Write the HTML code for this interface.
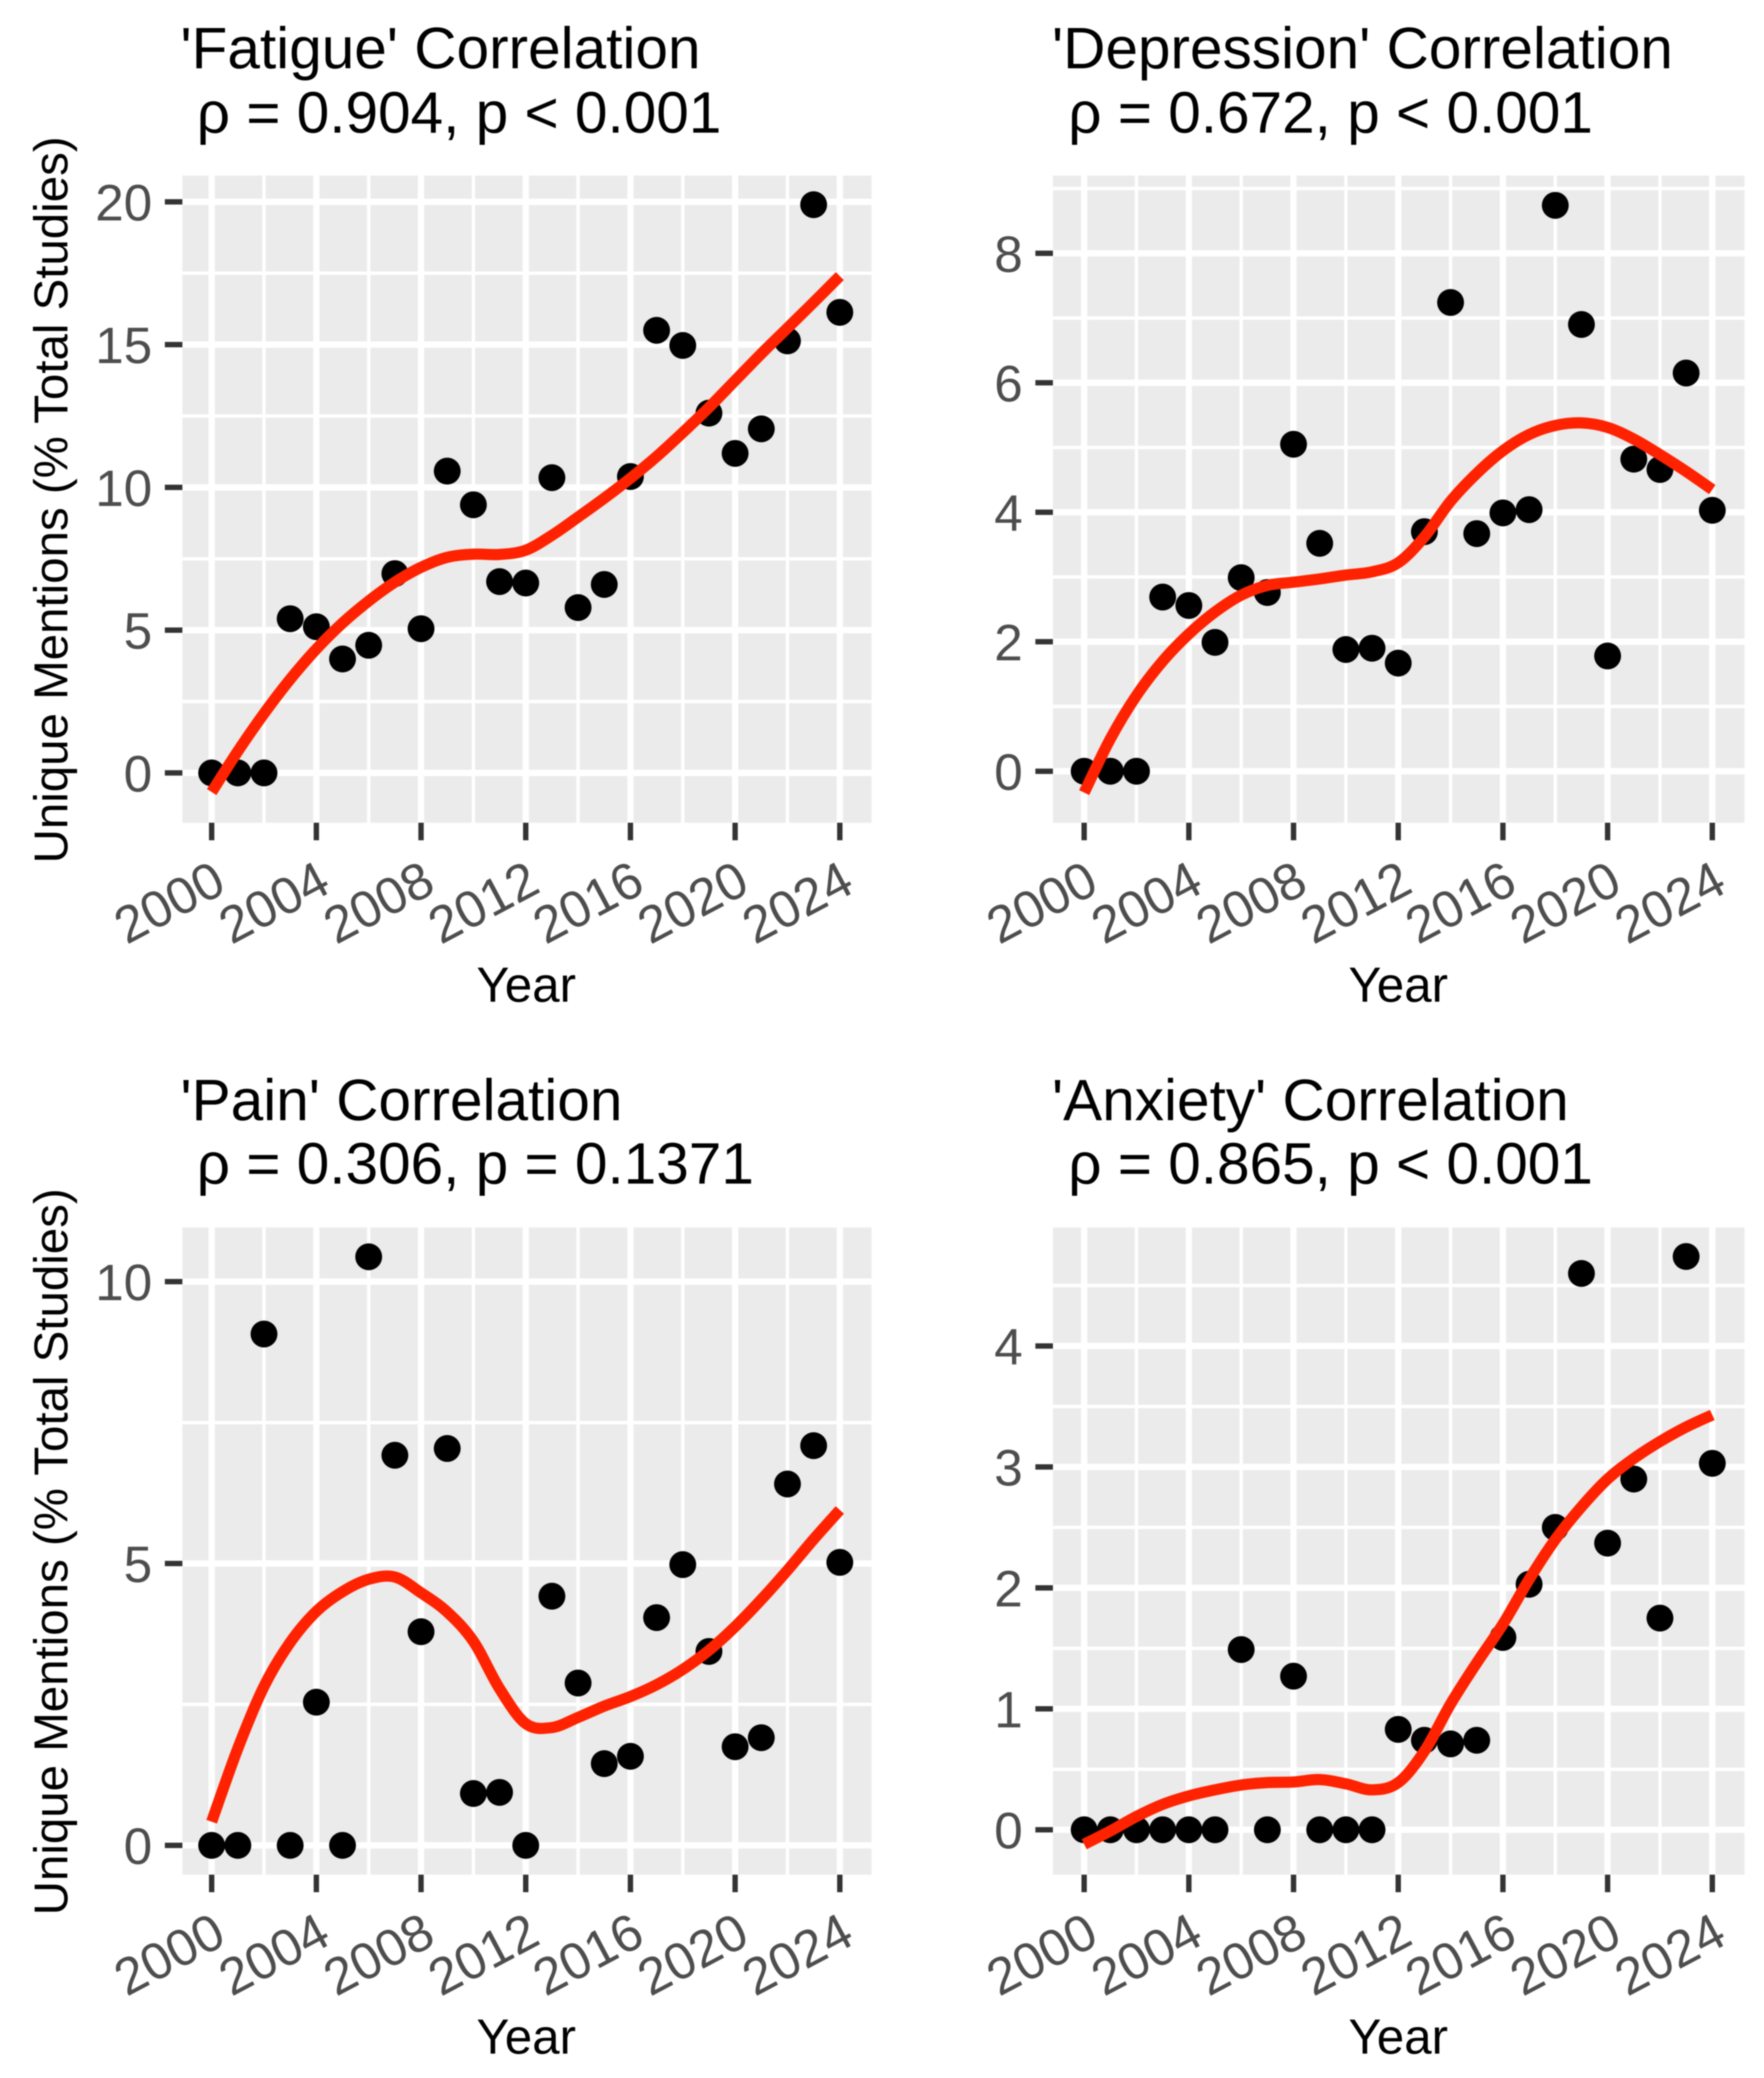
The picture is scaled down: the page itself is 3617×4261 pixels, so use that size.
<!DOCTYPE html>
<html lang="en">
<head>
<meta charset="utf-8">
<title>Correlation panels</title>
<style>
html,body{margin:0;padding:0;background:#fff;width:3617px;height:4261px;overflow:hidden}
svg{display:block;filter:blur(1.2px)}
text{font-family:"Liberation Sans",Arial,sans-serif}
.title{font-size:120px;fill:#000;white-space:pre}
.axis-title{font-size:97.3px;fill:#000}
.x-title{font-size:101px;fill:#000}
</style>
</head>
<body>
<svg id="figure" xmlns="http://www.w3.org/2000/svg" width="3617" height="4261" viewBox="0 0 3617 4261">
  <rect x="0" y="0" width="3617" height="4261" fill="#fff"/>

  <g id="panel-fatigue">
    <text class="title" x="370" y="140">'Fatigue' Correlation</text>
    <text class="title" x="370" y="272"> ρ = 0.904, p &lt; 0.001</text>
    <text class="axis-title" transform="translate(138,1025) rotate(-90)" text-anchor="middle">Unique Mentions (% Total Studies)</text>
    <text class="x-title" x="1079" y="2054" text-anchor="middle">Year</text>
  </g>

  <g id="panel-depression">
    <text class="title" x="2157" y="140">'Depression' Correlation</text>
    <text class="title" x="2157" y="272"> ρ = 0.672, p &lt; 0.001</text>
    <text class="x-title" x="2867" y="2054" text-anchor="middle">Year</text>
  </g>

  <g id="panel-pain">
    <text class="title" x="370" y="2297">'Pain' Correlation</text>
    <text class="title" x="370" y="2427"> ρ = 0.306, p = 0.1371</text>
    <text class="axis-title" transform="translate(138,3182) rotate(-90)" text-anchor="middle">Unique Mentions (% Total Studies)</text>
    <text class="x-title" x="1079" y="4211" text-anchor="middle">Year</text>
  </g>

  <g id="panel-anxiety">
    <text class="title" x="2157" y="2297">'Anxiety' Correlation</text>
    <text class="title" x="2157" y="2427"> ρ = 0.865, p &lt; 0.001</text>
    <text class="x-title" x="2867" y="4211" text-anchor="middle">Year</text>
  </g>
</svg>

<script>
// ---- shared x axis ----
const years = [2000,2001,2002,2003,2004,2005,2006,2007,2008,2009,2010,2011,2012,2013,2014,2015,2016,2017,2018,2019,2020,2021,2022,2023,2024];
const xMajorTicks = [2000,2004,2008,2012,2016,2020,2024];
const xMinorTicks = [2002,2006,2010,2014,2018,2022];

// ---- fatigue ----
const fatigueValues = [0,0,0,5.40,5.12,3.99,4.47,6.98,5.05,10.57,9.39,6.70,6.65,10.34,5.79,6.60,10.38,15.50,14.97,12.60,11.19,12.05,15.13,19.90,16.13];
const fatigueSmooth = [-0.67,0.76,2.08,3.28,4.34,5.25,6.02,6.68,7.20,7.55,7.66,7.65,7.80,8.32,8.96,9.62,10.32,11.08,11.92,12.80,13.74,14.68,15.58,16.48,17.40];
const fatigueYTicks = [0,5,10,15,20];
const fatigueYMinor = [2.5,7.5,12.5,17.5];

// ---- depression ----
const depressionValues = [0,0,0,2.69,2.56,1.99,2.99,2.76,5.05,3.52,1.88,1.90,1.67,3.70,7.24,3.67,3.99,4.04,8.74,6.90,1.78,4.82,4.66,6.15,4.03];
const depressionSmooth = [-0.33,0.50,1.17,1.70,2.12,2.46,2.72,2.87,2.92,2.97,3.03,3.08,3.22,3.62,4.17,4.60,4.95,5.20,5.34,5.38,5.31,5.13,4.89,4.63,4.35];
const depressionYTicks = [0,2,4,6,8];
const depressionYMinor = [1,3,5,7,9];

// ---- pain ----
const painValues = [0,0,9.07,0,2.54,0,10.44,6.92,3.79,7.04,0.92,0.94,0,4.42,2.88,1.45,1.58,4.04,4.98,3.44,1.75,1.91,6.41,7.09,5.02];
const painSmooth = [0.42,1.72,2.82,3.60,4.15,4.50,4.72,4.76,4.48,4.14,3.62,2.78,2.16,2.09,2.27,2.47,2.64,2.85,3.12,3.46,3.88,4.36,4.88,5.43,5.95];
const painYTicks = [0,5,10];
const painYMinor = [2.5,7.5];

// ---- anxiety ----
const anxietyValues = [0,0,0,0,0,0,1.49,0,1.27,0,0,0,0.83,0.74,0.71,0.74,1.59,2.03,2.50,4.60,2.37,2.90,1.75,4.74,3.03];
const anxietySmooth = [-0.12,-0.01,0.11,0.21,0.28,0.33,0.37,0.39,0.395,0.415,0.38,0.33,0.39,0.65,1.04,1.38,1.70,2.07,2.40,2.67,2.90,3.07,3.21,3.33,3.43];
const anxietyYTicks = [0,1,2,3,4];
const anxietyYMinor = [0.5,1.5,2.5,3.5,4.5];

const NS = 'http://www.w3.org/2000/svg';

function shape(parent, tag, attrs) {
  const node = document.createElementNS(NS, tag);
  for (const k in attrs) node.setAttribute(k, attrs[k]);
  parent.appendChild(node);
  return node;
}

function smoothPath(pts) {
  let d = 'M' + pts[0][0] + ' ' + pts[0][1];
  for (let i = 0; i < pts.length - 1; i++) {
    const p0 = pts[Math.max(i - 1, 0)], p1 = pts[i], p2 = pts[i + 1], p3 = pts[Math.min(i + 2, pts.length - 1)];
    const c1x = p1[0] + (p2[0] - p0[0]) / 6, c1y = p1[1] + (p2[1] - p0[1]) / 6;
    const c2x = p2[0] - (p3[0] - p1[0]) / 6, c2y = p2[1] - (p3[1] - p1[1]) / 6;
    d += 'C' + c1x + ' ' + c1y + ' ' + c2x + ' ' + c2y + ' ' + p2[0] + ' ' + p2[1];
  }
  return d;
}

function drawPanel(cfg) {
  const group = document.getElementById(cfg.groupId);
  const xScale = v => cfg.x2000 + (v - 2000) * (cfg.x2024 - cfg.x2000) / 24;
  const yScale = v => cfg.bottom - (v - cfg.yMin) * (cfg.bottom - cfg.top) / (cfg.yMax - cfg.yMin);

  const bg = shape(group, 'rect', {x: cfg.left, y: cfg.top, width: cfg.right - cfg.left, height: cfg.bottom - cfg.top, fill: '#EBEBEB'});
  
  

  cfg.yMinor.forEach(v => {
    const y = yScale(v);
    if (y < cfg.top || y > cfg.bottom) return;
    const line = shape(group, 'line', {x1: cfg.left, x2: cfg.right, y1: y, y2: y, stroke: '#fff', 'stroke-width': 7});
    
    
  });
  xMinorTicks.forEach(v => {
    const x = xScale(v);
    const line = shape(group, 'line', {x1: x, x2: x, y1: cfg.top, y2: cfg.bottom, stroke: '#fff', 'stroke-width': 7});
    
    
  });
  cfg.yTicks.forEach(v => {
    const y = yScale(v);
    const line = shape(group, 'line', {x1: cfg.left, x2: cfg.right, y1: y, y2: y, stroke: '#fff', 'stroke-width': 13});
    
    
    const tick = shape(group, 'line', {x1: cfg.left - 36, x2: cfg.left, y1: y, y2: y, stroke: '#333', 'stroke-width': 11});
    
    
    const label = shape(group, 'text', {x: cfg.left - 62, y: y + 38, 'text-anchor': 'end', 'font-size': 105, fill: '#4D4D4D'});
    label.textContent = String(v);
    
    
  });
  xMajorTicks.forEach(v => {
    const x = xScale(v);
    const line = shape(group, 'line', {x1: x, x2: x, y1: cfg.top, y2: cfg.bottom, stroke: '#fff', 'stroke-width': 13});
    
    
    const tick = shape(group, 'line', {x1: x, x2: x, y1: cfg.bottom, y2: cfg.bottom + 36, stroke: '#333', 'stroke-width': 11});
    
    
    const label = shape(group, 'text', {transform: 'translate(' + (x + 34) + ',' + (cfg.bottom + 140) + ') rotate(-28)', 'text-anchor': 'end', 'font-size': 106, fill: '#4D4D4D'});
    label.textContent = String(v);
    
    
  });

  cfg.values.forEach((v, i) => {
    const dot = shape(group, 'circle', {cx: xScale(years[i]), cy: yScale(v), r: 27.5, fill: '#000'});
    
    
  });

  const pts = cfg.smooth.map((v, i) => [xScale(years[i]), yScale(v)]);
  const curve = shape(group, 'path', {d: smoothPath(pts), fill: 'none', stroke: '#FF2200', 'stroke-width': 23, 'stroke-linecap': 'butt', 'stroke-linejoin': 'round'});
  
  
}

const leftColumn = {left: 374, right: 1787, x2000: 434, x2024: 1722};
const rightColumn = {left: 2159, right: 3577, x2000: 2223, x2024: 3511};
const topRow = {top: 360, bottom: 1687};
const bottomRow = {top: 2517, bottom: 3844};

drawPanel({...leftColumn, ...topRow, groupId: 'panel-fatigue', yMin: -1.744, yMax: 20.92, yTicks: fatigueYTicks, yMinor: fatigueYMinor, values: fatigueValues, smooth: fatigueSmooth});
drawPanel({...rightColumn, ...topRow, groupId: 'panel-depression', yMin: -0.795, yMax: 9.20, yTicks: depressionYTicks, yMinor: depressionYMinor, values: depressionValues, smooth: depressionSmooth});
drawPanel({...leftColumn, ...bottomRow, groupId: 'panel-pain', yMin: -0.519, yMax: 10.96, yTicks: painYTicks, yMinor: painYMinor, values: painValues, smooth: painSmooth});
drawPanel({...rightColumn, ...bottomRow, groupId: 'panel-anxiety', yMin: -0.371, yMax: 4.98, yTicks: anxietyYTicks, yMinor: anxietyYMinor, values: anxietyValues, smooth: anxietySmooth});
</script>
</body>
</html>
